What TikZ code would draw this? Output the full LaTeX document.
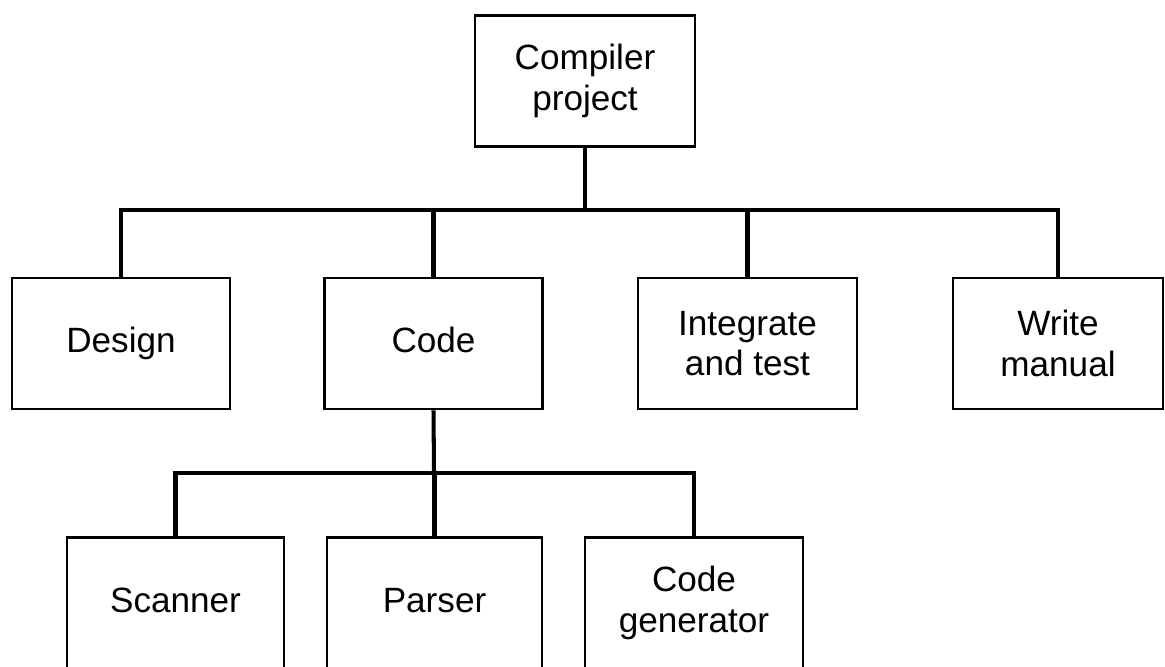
\documentclass[tikz,border=0pt]{standalone}
\usepackage{fontspec}
\setmainfont{Liberation Sans}
\usetikzlibrary{positioning}

\tikzset{
  task/.style={draw, line width=1.5pt, minimum width=4.36cm, minimum height=2.62cm,
    align=center, inner sep=0pt, font=\fontsize{20}{23}\selectfont},
  oneline/.style={task, text height=14.5pt, text depth=4.2pt},
  link/.style={line width=2.3pt}
}

\begin{document}
\begin{tikzpicture}[x=0.02cm, y=-0.02cm]
    \useasboundingbox (0,0) rectangle (1165,666);
    % top level
    \node[task, minimum width=4.4cm] (compiler) at (585,81) {Compiler\\project};
    \node[oneline] (design) at (121,343.5) {Design};
    \node[oneline] (code) at (433.5,343.5) {Code};
    \node[task, minimum width=4.38cm] (integrate) at (747.5,343.5) {Integrate\\and test};
    \node[task, minimum width=4.2cm] (manual) at (1058,343.5) {Write\\manual};
    % parts of the code
    \node[oneline, minimum width=4.34cm] (scanner) at (175.5,603) {Scanner};
    \node[oneline, minimum width=4.3cm] (parser) at (434.5,603) {Parser};
    \node[task] (codegen) at (694,603) {Code\\generator};
    % buses
    \coordinate (busA) at (585,210);
    \coordinate (busB) at (434,473);
    \draw[link] (compiler.south) -- (busA);
    \draw[link] (design.north) |- (busA) -| (manual.north);
    \foreach \t in {code,integrate}
      \draw[link] (busA -| \t.north) -- (\t.north);
    \draw[link] (code.south) -- (busB);
    \draw[link] (scanner.north) |- (busB) -| (codegen.north);
    \draw[link] (busB -| parser.north) -- (parser.north);
  \end{tikzpicture}
\end{document}
